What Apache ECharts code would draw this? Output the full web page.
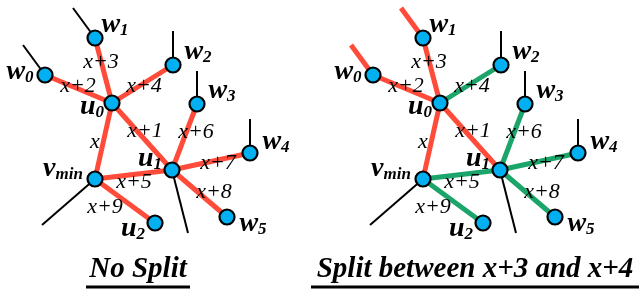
<!DOCTYPE html>
<html>
<head>
<meta charset="utf-8">
<script src="https://cdn.jsdelivr.net/npm/echarts@6/dist/echarts.min.js"></script>
<style>
html,body{margin:0;padding:0;background:#fff}
#main{width:642px;height:291px}
</style>
</head>
<body>
<div id="main"></div>
<script>
// node positions of the left picture (px), the right picture is the same tree shifted
var nodeNames = ['w0', 'w1', 'w2', 'w3', 'w4', 'w5', 'u0', 'u1', 'u2', 'vmin'];
var nodeX = [45, 95, 173, 197, 250, 227, 112, 172, 155, 95];
var nodeY = [75, 38, 65, 104, 153, 217, 103, 170, 223, 179];
var nodeTextX = [20, 115, 198, 222, 276, 253, 92, 150, 133, 63];
var nodeTextY = [72, 25, 52, 91, 142, 224, 107, 159, 229, 169];
var panelShift = [0, 328];

// tree edges and their weights
var edgeFrom = ['w0', 'w1', 'u0', 'u0', 'u0', 'u1', 'u1', 'u1', 'vmin', 'vmin'];
var edgeTo   = ['u0', 'u0', 'w2', 'vmin', 'u1', 'w3', 'w4', 'w5', 'u1', 'u2'];
var edgeText = ['x+2', 'x+3', 'x+4', 'x', 'x+1', 'x+6', 'x+7', 'x+8', 'x+5', 'x+9'];
var edgeTextX = [78, 101, 144, 95, 145, 196, 218, 214, 134, 105];
var edgeTextY = [86, 62, 86, 142, 131, 132, 163, 192, 182, 207];
// left : no split (all red) ; right : split between x+3 and x+4
var edgeColorLeft  = ['r', 'r', 'r', 'r', 'r', 'r', 'r', 'r', 'r', 'r'];
var edgeColorRight = ['r', 'r', 'g', 'r', 'r', 'g', 'g', 'g', 'g', 'g'];

// dangling edges going out of the picture
var stubNode = ['w0', 'w1', 'w2', 'w3', 'w4', 'u1', 'vmin'];
var stubX = [23, 73, 173, 197, 250, 188, 42];
var stubY = [45, 8, 31, 71, 119, 233, 225];
var stubColorLeft  = ['k', 'k', 'k', 'k', 'k', 'k', 'k'];
var stubColorRight = ['r', 'r', 'k', 'k', 'k', 'k', 'k'];

var captionText = ['No Split', 'Split between x+3 and x+4'];
var captionX = [138, 475];
var captionY = [271, 271];
var captionWidth = [104, 328];

var COLORS = { r: '#ff4b3a', g: '#1ca56b', k: '#000000' };
var FONT = 'Liberation Serif';

function nodeIdx(name) { return nodeNames.indexOf(name); }

function nodeLabel(name)
{
	var main = name.charAt(0);
	var sub = name.substring(1);
	return '{m|' + main + '}{s|' + sub + '}';
}

var edgeLines = [];
var stubLines = [];
var nodePts = [];
var nodeTextPts = [];
var edgeTextPts = [];

for (var p = 0; p < panelShift.length; p++)
{
	var dx = panelShift[p];
	var ecol = p == 0 ? edgeColorLeft : edgeColorRight;
	var scol = p == 0 ? stubColorLeft : stubColorRight;

	for (var i = 0; i < stubNode.length; i++)
	{
		var n = nodeIdx(stubNode[i]);
		var c = COLORS[scol[i]];
		stubLines.push({
			coords: [[stubX[i] + dx, stubY[i]], [nodeX[n] + dx, nodeY[n]]],
			lineStyle: { color: c, width: c == '#000000' ? 2 : 5, opacity: 1 }
		});
	}
	for (var i = 0; i < edgeFrom.length; i++)
	{
		var a = nodeIdx(edgeFrom[i]), b = nodeIdx(edgeTo[i]);
		edgeLines.push({
			coords: [[nodeX[a] + dx, nodeY[a]], [nodeX[b] + dx, nodeY[b]]],
			lineStyle: { color: COLORS[ecol[i]], width: 5, opacity: 1 }
		});
		edgeTextPts.push({ value: [edgeTextX[i] + dx, edgeTextY[i]], name: edgeText[i] });
	}
	for (var i = 0; i < nodeNames.length; i++)
	{
		nodePts.push([nodeX[i] + dx, nodeY[i]]);
		nodeTextPts.push({ value: [nodeTextX[i] + dx, nodeTextY[i]], name: nodeNames[i] });
	}
}

var captionPts = [];
for (var i = 0; i < captionText.length; i++)
{
	captionPts.push({ value: [captionX[i], captionY[i]], name: captionText[i] });
}

// invisible anchor for text only points
var hidden = { color: 'rgba(0,0,0,0)', opacity: 1 };

var option = {
	backgroundColor: '#ffffff',
	animation: false,
	grid: { left: 0, right: 0, top: 0, bottom: 0 },
	xAxis: { type: 'value', min: 0, max: 642, show: false },
	yAxis: { type: 'value', min: 0, max: 291, inverse: true, show: false },
	series: [
		{
			type: 'lines', coordinateSystem: 'cartesian2d', z: 1,
			lineStyle: { opacity: 1 },
			data: stubLines, silent: true
		},
		{
			type: 'lines', coordinateSystem: 'cartesian2d', z: 2,
			lineStyle: { opacity: 1 },
			data: edgeLines, silent: true
		},
		{
			type: 'scatter', z: 3, symbol: 'circle', symbolSize: 15,
			itemStyle: { color: '#00b0f0', borderColor: '#000', borderWidth: 2.2, opacity: 1 },
			data: nodePts, silent: true
		},
		{
			type: 'scatter', z: 4, symbolSize: 1, itemStyle: hidden,
			data: edgeTextPts, silent: true,
			label: {
				show: true, position: 'inside', color: '#000',
				fontFamily: FONT, fontStyle: 'italic', fontSize: 22,
				formatter: function (p) { return p.name; }
			}
		},
		{
			type: 'scatter', z: 4, symbolSize: 1, itemStyle: hidden,
			data: nodeTextPts, silent: true,
			label: {
				show: true, position: 'inside', color: '#000',
				formatter: function (p) { return nodeLabel(p.name); },
				rich: {
					m: { fontFamily: FONT, fontStyle: 'italic', fontWeight: 'bold', fontSize: 28, color: '#000' },
					s: { fontFamily: FONT, fontStyle: 'italic', fontWeight: 'bold', fontSize: 17, color: '#000', padding: [12, 0, 0, 0] }
				}
			}
		},
		{
			type: 'scatter', z: 4, symbolSize: 1, itemStyle: hidden,
			data: captionPts, silent: true,
			label: {
				show: true, position: 'inside', color: '#000', align: 'center',
				formatter: function (p) { return '{t|' + p.name + '}\n{u' + p.dataIndex + '|}'; },
				rich: {
					t: { fontFamily: FONT, fontStyle: 'italic', fontWeight: 'bold', fontSize: 29, color: '#000', lineHeight: 32 },
					u0: { width: captionWidth[0], height: 3, backgroundColor: '#000' },
					u1: { width: captionWidth[1], height: 3, backgroundColor: '#000' }
				}
			}
		}
	]
};

var myChart = echarts.init(document.getElementById('main'));
myChart.setOption(option);
</script>
</body>
</html>
